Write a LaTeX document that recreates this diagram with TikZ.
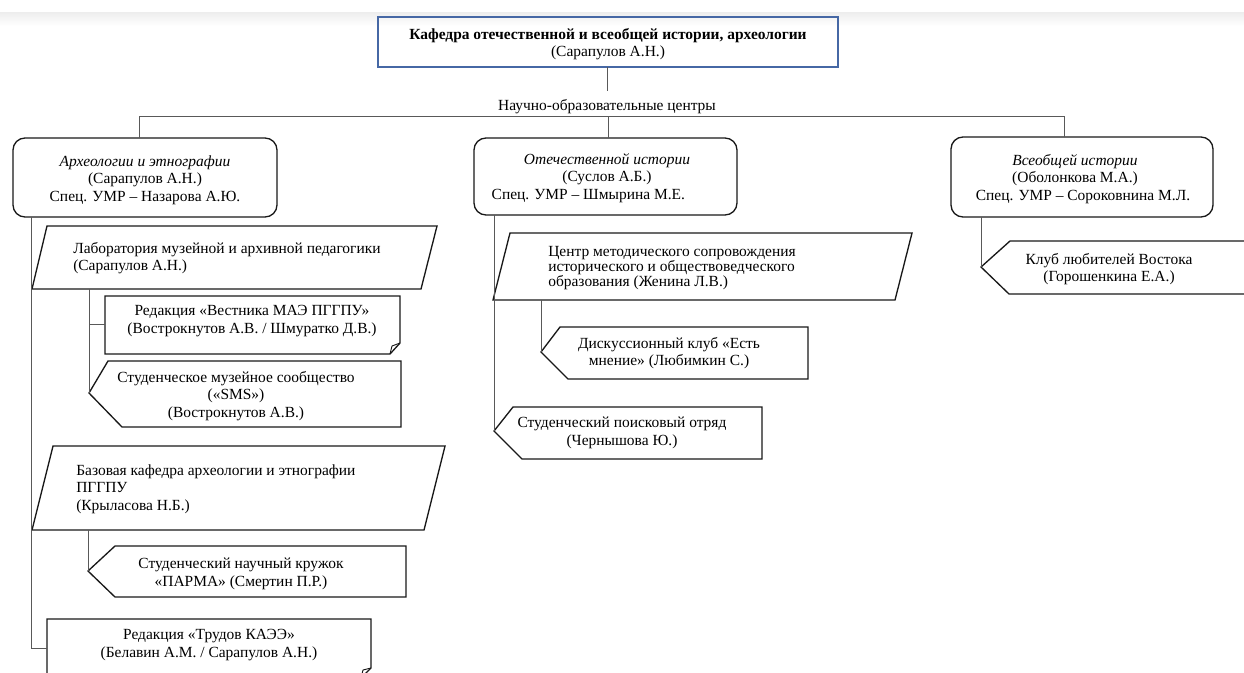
\documentclass[tikz,border=0pt]{standalone}
\usepackage{fontspec}
\setmainfont{Liberation Serif}
\usetikzlibrary{calc}
\definecolor{kafblue}{RGB}{70,104,165}
\tikzset{
  headbox/.style={draw=kafblue, line width=1.2pt},
  centrebox/.style={draw=black!90, line width=1pt, rounded corners=9pt},
  unitbox/.style={draw=black!90, line width=1pt, line join=miter},
  link/.style={draw=black!65, line width=0.75pt},
  txt/.style={inner sep=0pt, align=center, font=\fontsize{11.6}{13.2}\selectfont},
  ltxt/.style={txt, align=left, anchor=west},
}
\begin{document}
\begin{tikzpicture}[x=0.75pt,y=-0.75pt]
    \useasboundingbox (0,0) rectangle (1244,672);
    \clip (0,0) rectangle (1244,672);
    \shade[top color=black!7, bottom color=white] (0,12) rectangle (1244,26);
    % head of the chart
    \draw[headbox] (378,17) rectangle (838,67);
    \node[txt] (head) at (608,44) {\textbf{Кафедра отечественной и всеобщей истории, археологии}\\(Сарапулов А.Н.)};
    \coordinate (head-s) at (607,67);
    \coordinate (nod-n) at (607,91);
    \node[txt] (nod) at (607,107) {Научно-образовательные центры};
    \draw[link] (head-s) -- (nod-n);
    \coordinate (bus) at (608,116);
    % centres
    \draw[centrebox] (13,138) rectangle (277,217);
    \node[txt] (arch) at (145,180) {\textit{Археологии и этнографии}\\(Сарапулов А.Н.)\\Спец. УМР – Назарова А.Ю.};
    \draw[centrebox] (474,138) rectangle (737,215);
    \node[txt] (nat) at (607,178) {\textit{Отечественной истории}\\(Суслов А.Б.)\\Спец. УМР – Шмырина М.Е.\hspace*{28pt}};
    \draw[centrebox] (951,137) rectangle (1213,217);
    \node[txt] (world) at (1075,179) {\textit{Всеобщей истории}\\(Оболонкова М.А.)\\\hspace*{12pt}Спец. УМР – Сороковнина М.Л.};
    \coordinate (arch-n) at (139,138);
    \coordinate (nat-n) at (608,138);
    \coordinate (world-n) at (1064,137);
    \draw[link] (arch-n) -- (arch-n |- bus) -- (bus -| world-n) -- (world-n);
    \draw[link] (bus) -- (nat-n);
    % archaeology and ethnography
    \coordinate (arch-s) at (31,217);
    \coordinate (trud-w) at (47,648);
    \draw[unitbox] (47,226) -- (437,226) -- (421,289) -- (32,289) -- cycle;
    \node[ltxt] (lab) at (73,258) {Лаборатория музейной и архивной педагогики\\(Сарапулов А.Н.)};
    \coordinate (lab-s) at (89,289);
    \coordinate (vest-w) at (105,324);
    \coordinate (sms-tip) at (89,393);
    \draw[unitbox] (105,296) -- (400,296) -- (400,343) -- (390,354) -- (105,354) -- cycle;
    \draw[unitbox, line width=0.7pt] (390,354) -- (392,346) -- (400,343);
    \node[txt] (vest) at (252,321) {Редакция «Вестника МАЭ ПГГПУ»\\(Вострокнутов А.В. / Шмуратко Д.В.)};
    \draw[unitbox] (sms-tip) -- (108,361) -- (401,361) -- (401,427) -- (122,427) -- cycle;
    \node[txt] (sms) at (236,396) {Студенческое музейное сообщество\\(«SMS»)\\(Вострокнутов А.В.)};
    \draw[link] (lab-s) -- (sms-tip);
    \draw[link] (lab-s |- vest-w) -- (vest-w);
    \draw[unitbox] (53,446) -- (445,446) -- (424,530) -- (32,530) -- cycle;
    \node[ltxt] (base) at (76,489) {Базовая кафедра археологии и этнографии\\ПГГПУ\\(Крыласова Н.Б.)};
    \coordinate (base-s) at (88,530);
    \coordinate (parma-tip) at (88,571);
    \draw[unitbox] (parma-tip) -- (115,546) -- (406,546) -- (406,597) -- (115,597) -- cycle;
    \node[txt] (parma) at (241,574) {Студенческий научный кружок\\«ПАРМА» (Смертин П.Р.)};
    \draw[link] (base-s) -- (parma-tip);
    \draw[unitbox] (47,682) -- (47,619) -- (371,619) -- (371,668) -- (361,678);
    \draw[unitbox, line width=0.7pt] (361,678) -- (363,670) -- (371,668);
    \node[txt] (trud) at (209,645) {Редакция «Трудов КАЭЭ»\\(Белавин А.М. / Сарапулов А.Н.)};
    \draw[link] (arch-s) -- (arch-s |- trud-w) -- (trud-w);
    % national history
    \coordinate (nat-s) at (494,215);
    \coordinate (search-tip) at (494,431);
    \draw[unitbox] (510,233) -- (912,233) -- (895,300) -- (493,300) -- cycle;
    \node[ltxt, font=\fontsize{11.6}{11.2}\selectfont] (method) at (548,268) {Центр методического сопровождения\\исторического и обществоведческого\\образования (Женина Л.В.)};
    \coordinate (method-s) at (541,300);
    \coordinate (disc-tip) at (541,352);
    \draw[unitbox] (disc-tip) -- (560,327) -- (808,327) -- (808,379) -- (568,379) -- cycle;
    \node[txt] (disc) at (669,353) {Дискуссионный клуб «Есть\\мнение» (Любимкин С.)};
    \draw[link] (method-s) -- (disc-tip);
    \draw[unitbox] (search-tip) -- (513,407) -- (762,407) -- (762,459) -- (522,459) -- cycle;
    \node[txt] (search) at (622,433) {Студенческий поисковый отряд\\(Чернышова Ю.)};
    \draw[link] (nat-s) -- (search-tip);
    % world history
    \coordinate (world-s) at (981,217);
    \coordinate (club-tip) at (981,267);
    \draw[unitbox] (club-tip) -- (1010,241) -- (1260,241) -- (1260,294) -- (1009,294) -- cycle;
    \node[txt] (club) at (1109,269) {Клуб любителей Востока\\(Горошенкина Е.А.)};
    \draw[link] (world-s) -- (club-tip);
\end{tikzpicture}
\end{document}
